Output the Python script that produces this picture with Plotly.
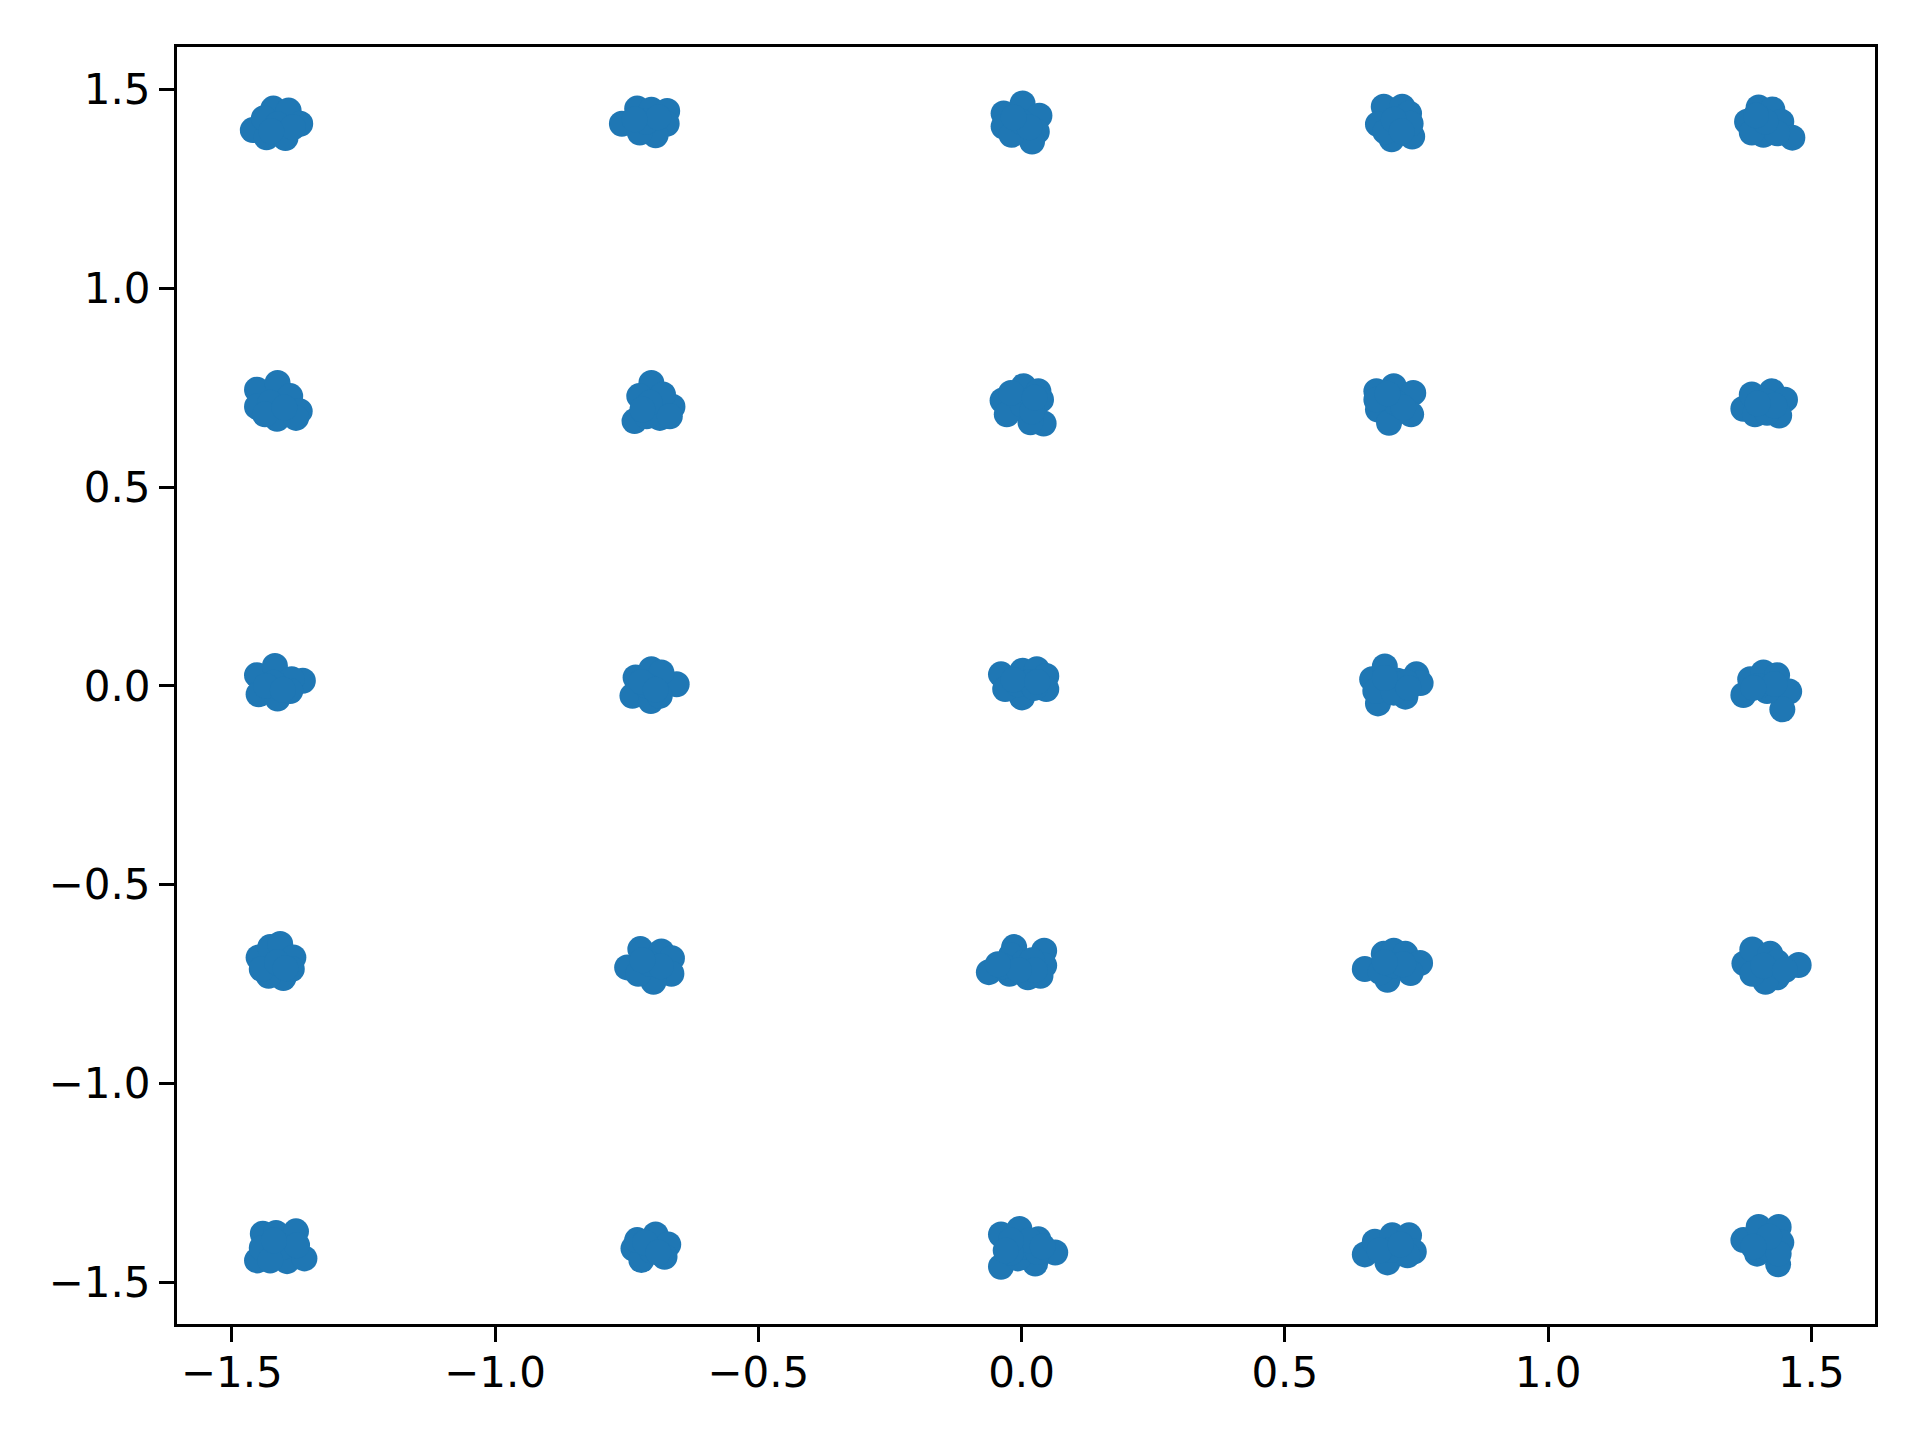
import plotly.graph_objects as go

# Estimated points (25 constellation clusters)
x_vals = [
    # (-1.414, 1.414)
    -1.460, -1.421, -1.392, -1.370, -1.434, -1.398, -1.439, -1.413, -1.384, -1.425,
    # (-0.707, 1.414)
    -0.759, -0.730, -0.703, -0.673, -0.674, -0.695, -0.725, -0.713, -0.690, -0.735,
    # (-1.414, 0.707)
    -1.452, -1.413, -1.452, -1.389, -1.371, -1.414, -1.378, -1.427, -1.437, -1.400,
    # (-0.707, 0.707)
    -0.703, -0.726, -0.735, -0.663, -0.681, -0.687, -0.712, -0.706, -0.668, -0.720,
    # (0, 1.414)
    -0.034, -0.034, 0.002, 0.034, 0.029, 0.020, -0.019, -0.001, 0.015, -0.015,
    # (0.707, 1.414)
    0.688, 0.723, 0.677, 0.736, 0.742, 0.703, 0.739, 0.691, 0.707, 0.722,
    # (0, 0.707)
    -0.036, 0.004, 0.032, 0.037, 0.042, 0.017, -0.028, 0.002, -0.020, 0.020, 0.025,
    # (0.707, 0.707)
    0.674, 0.707, 0.744, 0.677, 0.698, 0.740, 0.711, 0.674, 0.725, 0.695,
    # (1.414, 1.414)
    1.378, 1.400, 1.426, 1.443, 1.464, 1.409, 1.387, 1.435, 1.413, 1.395,
    # (1.414, 0.707)
    1.371, 1.387, 1.425, 1.450, 1.439, 1.393, 1.416, 1.413, 1.430, 1.398,
    # (-1.414, 0)
    -1.452, -1.418, -1.449, -1.413, -1.365, -1.386, -1.389, -1.421, -1.435, -1.403,
    # (-0.707, 0)
    -0.733, -0.703, -0.739, -0.704, -0.655, -0.684, -0.687, -0.712, -0.722, -0.695,
    # (-1.414, -0.707)
    -1.449, -1.427, -1.408, -1.383, -1.402, -1.430, -1.443, -1.386, -1.414, -1.398,
    # (-0.707, -0.707)
    -0.749, -0.724, -0.684, -0.664, -0.665, -0.699, -0.728, -0.706, -0.685, -0.720,
    # (0, 0)
    -0.039, 0.002, 0.029, 0.047, 0.047, 0.001, -0.031, -0.007, 0.015, 0.025, -0.015, 0.030,
    # (0.707, 0)
    0.666, 0.690, 0.750, 0.758, 0.729, 0.677, 0.672, 0.714, 0.707, 0.730, 0.690, 0.735,
    # (0, -0.707)
    -0.062, -0.014, 0.043, 0.043, 0.036, 0.012, -0.023, -0.020, 0.005, -0.035, 0.020, 0.025, -0.005, -0.045,
    # (0.707, -0.707)
    0.652, 0.688, 0.707, 0.729, 0.757, 0.739, 0.695, 0.682, 0.707, 0.725, 0.690,
    # (1.414, 0)
    1.371, 1.384, 1.409, 1.435, 1.458, 1.445, 1.416, 1.400, 1.430, 1.390,
    # (1.414, -0.707)
    1.373, 1.388, 1.422, 1.435, 1.476, 1.435, 1.413, 1.388, 1.409, 1.450,
    # (-1.414, -1.414)
    -1.441, -1.416, -1.378, -1.452, -1.395, -1.362, -1.443, -1.402, -1.376, -1.427, -1.420,
    # (-0.707, -1.414)
    -0.737, -0.695, -0.671, -0.678, -0.722, -0.730, -0.703, -0.715, -0.690,
    # (0, -1.414)
    -0.039, -0.004, 0.032, 0.064, 0.026, -0.039, -0.007, 0.002, 0.031, 0.015, -0.020, 0.040, -0.020, -0.030,
    # (0.707, -1.414)
    0.652, 0.671, 0.704, 0.736, 0.745, 0.695, 0.733, 0.701, 0.680, 0.720,
    # (1.414, -1.414)
    1.371, 1.400, 1.438, 1.443, 1.437, 1.397, 1.419, 1.438, 1.420, 1.390,
]

y_vals = [
    1.398, 1.452, 1.447, 1.414, 1.380, 1.378, 1.428, 1.413, 1.405, 1.395,
    1.414, 1.452, 1.449, 1.446, 1.414, 1.385, 1.392, 1.419, 1.430, 1.425,
    0.745, 0.762, 0.702, 0.729, 0.691, 0.672, 0.674, 0.712, 0.683, 0.700,
    0.762, 0.729, 0.666, 0.702, 0.733, 0.674, 0.678, 0.712, 0.678, 0.695,
    1.440, 1.407, 1.465, 1.434, 1.394, 1.369, 1.386, 1.419, 1.405, 1.430,
    1.457, 1.457, 1.413, 1.440, 1.382, 1.375, 1.414, 1.394, 1.424, 1.395,
    0.718, 0.754, 0.741, 0.720, 0.660, 0.663, 0.683, 0.707, 0.737, 0.690, 0.725,
    0.741, 0.754, 0.737, 0.695, 0.662, 0.683, 0.712, 0.720, 0.700, 0.735,
    1.419, 1.455, 1.450, 1.419, 1.379, 1.386, 1.392, 1.390, 1.419, 1.435,
    0.697, 0.733, 0.741, 0.720, 0.680, 0.683, 0.687, 0.716, 0.705, 0.710,
    0.027, 0.050, -0.021, -0.032, 0.013, 0.017, -0.013, 0.008, 0.000, -0.010,
    0.021, 0.042, -0.025, -0.038, 0.004, 0.034, -0.025, 0.000, 0.010, -0.010,
    -0.683, -0.657, -0.649, -0.683, -0.735, -0.729, -0.712, -0.712, -0.695, -0.710,
    -0.708, -0.662, -0.668, -0.685, -0.724, -0.744, -0.724, -0.699, -0.705, -0.690,
    0.029, 0.038, 0.042, 0.025, -0.008, -0.029, -0.008, 0.004, 0.010, -0.005, 0.015, 0.010,
    0.017, 0.049, 0.029, 0.007, -0.027, -0.044, -0.013, 0.013, -0.017, 0.010, 0.020, -0.005,
    -0.720, -0.657, -0.666, -0.703, -0.729, -0.733, -0.724, -0.678, -0.695, -0.705, -0.690, -0.715, -0.715, -0.700,
    -0.712, -0.674, -0.666, -0.674, -0.697, -0.722, -0.739, -0.720, -0.703, -0.700, -0.695,
    -0.023, 0.017, 0.034, 0.027, -0.014, -0.059, -0.013, 0.000, 0.005, -0.005,
    -0.698, -0.663, -0.674, -0.695, -0.702, -0.733, -0.744, -0.724, -0.704, -0.715,
    -1.378, -1.376, -1.372, -1.445, -1.447, -1.440, -1.414, -1.411, -1.407, -1.445, -1.395,
    -1.415, -1.380, -1.405, -1.436, -1.444, -1.394, -1.420, -1.400, -1.425,
    -1.380, -1.366, -1.392, -1.425, -1.453, -1.461, -1.440, -1.411, -1.424, -1.395, -1.425, -1.410, -1.395, -1.420,
    -1.430, -1.398, -1.382, -1.382, -1.423, -1.450, -1.432, -1.419, -1.420, -1.405,
    -1.394, -1.361, -1.361, -1.400, -1.455, -1.428, -1.415, -1.428, -1.385, -1.410,
]

tick_vals = [-1.5, -1.0, -0.5, 0.0, 0.5, 1.0, 1.5]
tick_text = ["\u22121.5", "\u22121.0", "\u22120.5", "0.0", "0.5", "1.0", "1.5"]

fig = go.Figure()
fig.add_trace(go.Scatter(
    x=x_vals, y=y_vals, mode="markers",
    marker=dict(color="#1f77b4", size=26, line=dict(width=0)),
    showlegend=False,
))

axis_common = dict(
    showgrid=False, zeroline=False,
    showline=True, linecolor="black", linewidth=3, mirror=True,
    ticks="outside", ticklen=15, tickwidth=3, tickcolor="black",
    tickfont=dict(family="DejaVu Sans", size=42, color="black"),
    tickmode="array", tickvals=tick_vals, ticktext=tick_text,
)

fig.update_layout(
    width=1904, height=1424,
    margin=dict(l=169, r=37, t=39, b=108),
    plot_bgcolor="white", paper_bgcolor="white",
    xaxis=dict(range=[-1.604, 1.621], ticklabelstandoff=-5, **axis_common),
    yaxis=dict(range=[-1.605, 1.607], **axis_common),
)

fig.write_html("out.html")
